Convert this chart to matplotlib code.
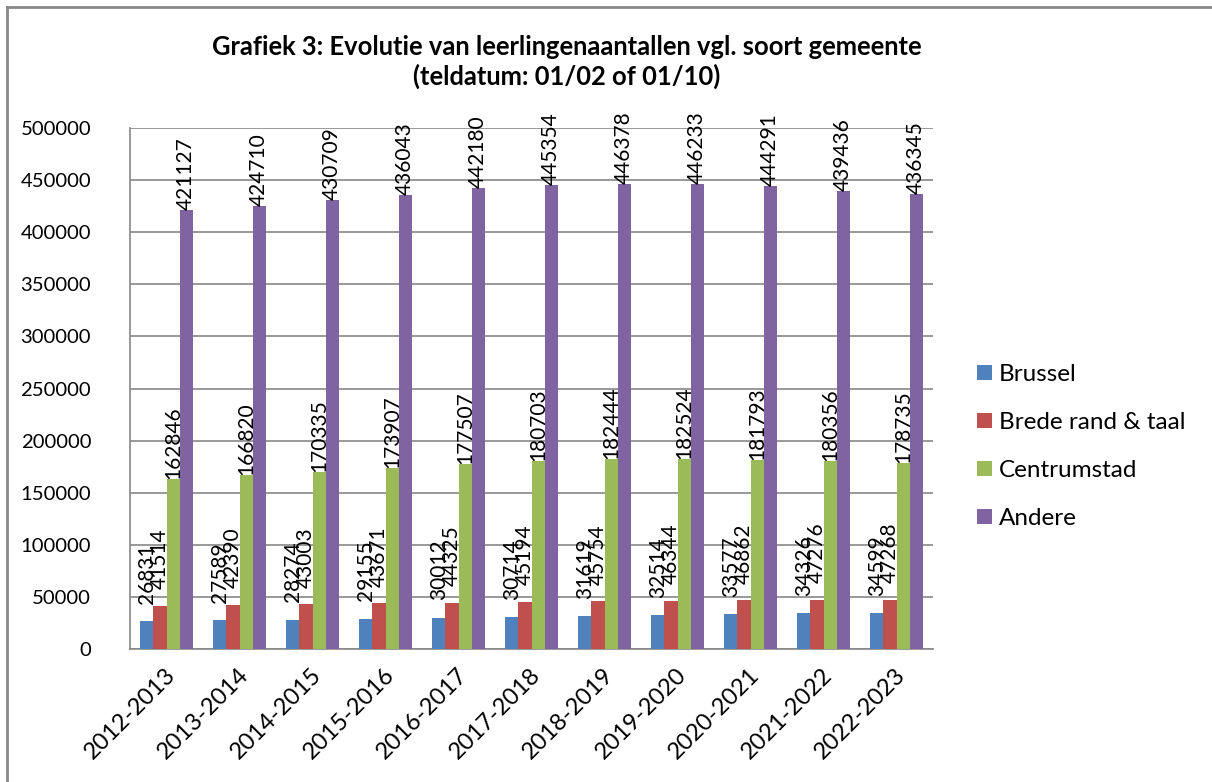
import matplotlib
matplotlib.use("Agg")
import matplotlib.pyplot as plt
from matplotlib.lines import Line2D
from matplotlib.transforms import ScaledTranslation
import numpy as np

years = ["2012-2013", "2013-2014", "2014-2015", "2015-2016", "2016-2017", "2017-2018",
         "2018-2019", "2019-2020", "2020-2021", "2021-2022", "2022-2023"]
brussel = [26831, 27589, 28274, 29155, 30012, 30714, 31619, 32514, 33577, 34326, 34599]
brede = [41514, 42390, 43003, 43671, 44325, 45194, 45754, 46344, 46862, 47276, 47268]
centrum = [162846, 166820, 170335, 173907, 177507, 180703, 182444, 182524, 181793, 180356, 178735]
andere = [421127, 424710, 430709, 436043, 442180, 445354, 446378, 446233, 444291, 439436, 436345]

names = ["Brussel", "Brede rand & taal", "Centrumstad", "Andere"]
values = [brussel, brede, centrum, andere]
colors = ["#4F81BD", "#C0504D", "#9BBB59", "#8064A2"]
label_offsets_pt = [12.5, 12.0, 0.0, 0.0]

plt.rcParams['font.family'] = ['Lato', 'DejaVu Sans']

fig = plt.figure(figsize=(12.12, 7.82), dpi=100)
# outer chart border (left and top visible)
fig.add_artist(Line2D([6.5 / 1212, 6.5 / 1212], [0, 1 - 6.5 / 782], transform=fig.transFigure,
                      color="#888888", linewidth=2))
fig.add_artist(Line2D([6.5 / 1212, 1], [1 - 6.5 / 782, 1 - 6.5 / 782], transform=fig.transFigure,
                      color="#888888", linewidth=2))

ax = fig.add_axes([130 / 1212, 1 - 649 / 782, 803 / 1212, 521 / 782])

x = np.arange(len(years))
w = 0.18
for i, (name, vals, col, off) in enumerate(zip(names, values, colors, label_offsets_pt)):
    pos = x + (i - 1.5) * w
    ax.bar(pos, vals, width=w, color=col, label=name, zorder=3)
    for p, v in zip(pos, vals):
        ax.annotate(str(v), (p, v), xytext=(0, off), textcoords="offset points",
                    rotation=90, ha="center", va="bottom", fontsize=15, zorder=4)

ax.set_xlim(-0.5, len(years) - 0.5)
ax.set_ylim(0, 500000)
ax.set_yticks(np.arange(0, 500001, 50000))
ax.set_yticklabels([str(v) for v in range(0, 500001, 50000)], fontsize=14.6)
ax.tick_params(axis="y", length=0, pad=28)
ax.set_xticks(x)
ax.set_xticklabels(years, rotation=45, ha="right", va="top", rotation_mode="anchor", fontsize=17)
ax.tick_params(axis="x", length=0, pad=11)
for lbl in ax.get_xticklabels():
    lbl.set_transform(lbl.get_transform() + ScaledTranslation(-2 / 100, 0, fig.dpi_scale_trans))
ax.grid(axis="y", color="#888888", linewidth=1.2, zorder=0)
for s in ["top", "right"]:
    ax.spines[s].set_visible(False)
for s in ["left", "bottom"]:
    ax.spines[s].set_color("#888888")
    ax.spines[s].set_linewidth(1.2)

fig.text(567 / 1212, 1 - 35 / 782,
         "Grafiek 3: Evolutie van leerlingenaantallen vgl. soort gemeente\n(teldatum: 01/02 of 01/10)",
         ha="center", va="top", fontsize=18.4, fontweight="bold", linespacing=1.2)

fig.legend(loc="center left", bbox_to_anchor=(977 / 1212, 1 - 446.5 / 782), frameon=False,
           fontsize=17.5, handlelength=0.62, handleheight=0.62, labelspacing=1.11,
           handletextpad=0.29, borderpad=0, borderaxespad=0)

fig.savefig("out.png", dpi=100)
